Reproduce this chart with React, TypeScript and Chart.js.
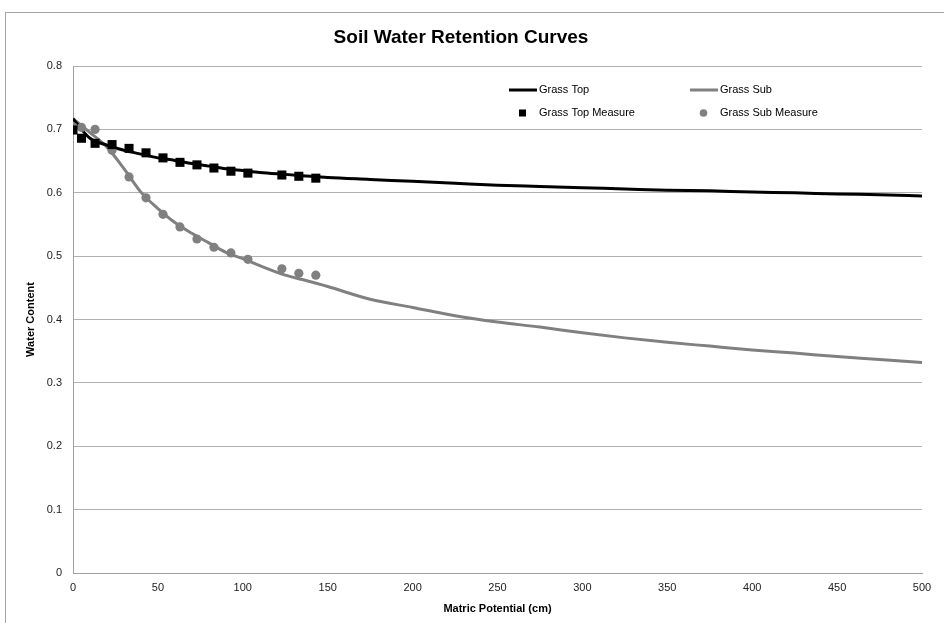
import React, { useEffect, useRef } from 'react';
import { Chart, registerables } from 'chart.js';

Chart.register(...registerables);

// Fitted curves (Matric potential in cm)
const curveX = [0, 5, 10, 20, 30, 40, 50, 60, 70, 80, 90, 100, 110, 125, 135, 150, 175, 200, 225, 250, 275, 300, 325, 350, 375, 400, 425, 450, 475, 500];
const grassTopCurve = [0.717, 0.700, 0.686, 0.675, 0.667, 0.661, 0.655, 0.651, 0.646, 0.642, 0.638, 0.635, 0.632, 0.629, 0.627, 0.624, 0.621, 0.618, 0.615, 0.612, 0.610, 0.608, 0.606, 0.604, 0.603, 0.601, 0.600, 0.598, 0.597, 0.595];
const grassSubCurve = [0.717, 0.706, 0.695, 0.672, 0.638, 0.601, 0.575, 0.553, 0.536, 0.521, 0.506, 0.496, 0.485, 0.470, 0.463, 0.452, 0.432, 0.419, 0.406, 0.396, 0.388, 0.379, 0.371, 0.364, 0.358, 0.352, 0.347, 0.3415, 0.337, 0.332];

// Measurements
const measureX = [0, 5, 13, 23, 33, 43, 53, 63, 73, 83, 93, 103, 123, 133, 143];
const grassTopMeasure = [0.699, 0.686, 0.678, 0.676, 0.670, 0.663, 0.655, 0.648, 0.644, 0.639, 0.634, 0.631, 0.628, 0.626, 0.623];
const grassSubMeasure = [0.704, 0.703, 0.700, 0.667, 0.625, 0.592, 0.566, 0.546, 0.527, 0.514, 0.505, 0.495, 0.480, 0.473, 0.470];

const seriesNames = ['Grass Top', 'Grass Sub', 'Grass Top Measure', 'Grass Sub Measure'];
const titleText = 'Soil Water Retention Curves';
const xTitle = 'Matric Potential (cm)';
const yTitle = 'Water Content';

const FONT = "'Liberation Sans', Arial, sans-serif";
const BLACK = '#000000';
const GRAY = '#808080';

const pairs = (xs: number[], ys: number[]) => xs.map((x, i) => ({ x, y: ys[i] }));

const frameAndLegend = {
  id: 'frameAndLegend',
  beforeDraw(chart: any) {
    const { ctx } = chart;
    ctx.save();
    ctx.fillStyle = '#ffffff';
    ctx.fillRect(0, 0, chart.width, chart.height);
    ctx.strokeStyle = '#a6a6a6';
    ctx.lineWidth = 1;
    ctx.strokeRect(5.5, 12.5, chart.width + 10, chart.height + 10);
    ctx.restore();
  },
  afterDraw(chart: any) {
    const { ctx } = chart;
    const ds = chart.data.datasets;
    ctx.save();
    ctx.font = `11px ${FONT}`;
    ctx.textBaseline = 'middle';
    ctx.textAlign = 'left';
    const row1 = 90;
    const row2 = 113;
    const col1 = 509;
    const col2 = 690;
    const lineItem = (x: number, y: number, d: any, label: string) => {
      ctx.strokeStyle = d.borderColor;
      ctx.lineWidth = d.borderWidth;
      ctx.beginPath();
      ctx.moveTo(x, y);
      ctx.lineTo(x + 28, y);
      ctx.stroke();
      ctx.fillStyle = '#000';
      ctx.fillText(label, x + 30, y);
    };
    const pointItem = (x: number, y: number, d: any, label: string) => {
      ctx.fillStyle = d.backgroundColor;
      if (d.pointStyle === 'rect') {
        ctx.fillRect(x + 10, y - 3.5, 7, 7);
      } else {
        ctx.beginPath();
        ctx.arc(x + 13.5, y, 3.8, 0, Math.PI * 2);
        ctx.fill();
      }
      ctx.fillStyle = '#000';
      ctx.fillText(label, x + 30, y);
    };
    lineItem(col1, row1, ds[2], ds[2].label);
    lineItem(col2, row1, ds[3], ds[3].label);
    pointItem(col1, row2, ds[0], ds[0].label);
    pointItem(col2, row2, ds[1], ds[1].label);
    ctx.restore();
  },
};

export default function App() {
  const ref = useRef<HTMLCanvasElement | null>(null);

  useEffect(() => {
    if (!ref.current) return;
    Chart.defaults.font.family = FONT;
    const chart = new Chart(ref.current, {
      type: 'scatter',
      data: {
        datasets: [
          {
            label: seriesNames[2],
            data: pairs(measureX, grassTopMeasure),
            pointStyle: 'rect',
            pointRadius: 6.4,
            backgroundColor: BLACK,
            borderColor: BLACK,
            borderWidth: 0,
            showLine: false,
            order: 0,
          },
          {
            label: seriesNames[3],
            data: pairs(measureX, grassSubMeasure),
            pointStyle: 'circle',
            pointRadius: 4.6,
            backgroundColor: GRAY,
            borderColor: GRAY,
            borderWidth: 0,
            showLine: false,
            order: 1,
          },
          {
            label: seriesNames[0],
            data: pairs(curveX, grassTopCurve),
            showLine: true,
            pointRadius: 0,
            borderColor: BLACK,
            backgroundColor: BLACK,
            borderWidth: 3,
            cubicInterpolationMode: 'monotone',
            order: 2,
          },
          {
            label: seriesNames[1],
            data: pairs(curveX, grassSubCurve),
            showLine: true,
            pointRadius: 0,
            borderColor: GRAY,
            backgroundColor: GRAY,
            borderWidth: 3,
            cubicInterpolationMode: 'monotone',
            order: 3,
          },
        ],
      },
      options: {
        responsive: false,
        animation: false,
        layout: { padding: { left: 0, right: 22, top: 0, bottom: 0 } },
        plugins: {
          legend: { display: false },
          tooltip: { enabled: false },
          title: {
            display: true,
            text: titleText,
            color: '#000',
            font: { family: FONT, size: 19, weight: 'bold' },
            padding: { top: 26, bottom: 17.2 },
          },
        },
        scales: {
          x: {
            type: 'linear',
            min: 0,
            max: 500,
            ticks: { stepSize: 50, color: '#222', font: { size: 11 }, padding: 8, maxRotation: 0 },
            grid: { display: true, color: 'rgba(0,0,0,0)', drawTicks: false },
            border: { display: true, color: '#a0a0a0', width: 1 },
            title: {
              display: true,
              text: xTitle,
              color: '#000',
              font: { size: 11, weight: 'bold' },
              padding: { top: 0, bottom: 7.4 },
            },
            afterFit: (s: any) => { s.height = 50; },
          },
          y: {
            type: 'linear',
            min: 0,
            max: 0.8,
            ticks: { stepSize: 0.1, color: '#222', font: { size: 11 }, padding: 11 },
            grid: { color: '#b0b0b0', drawTicks: false },
            border: { display: true, color: '#a0a0a0', width: 1 },
            title: {
              display: true,
              text: yTitle,
              color: '#000',
              font: { size: 11, weight: 'bold' },
              padding: { top: 24, bottom: 0 },
            },
            afterFit: (s: any) => { s.width = 73; },
          },
        },
      },
      plugins: [frameAndLegend],
    } as any);
    return () => chart.destroy();
  }, []);

  return (
    <div style={{ position: 'absolute', left: 0, top: 0, width: 944, height: 623 }}>
      <canvas ref={ref} width={944} height={623} style={{ display: 'block' }} />
    </div>
  );
}
